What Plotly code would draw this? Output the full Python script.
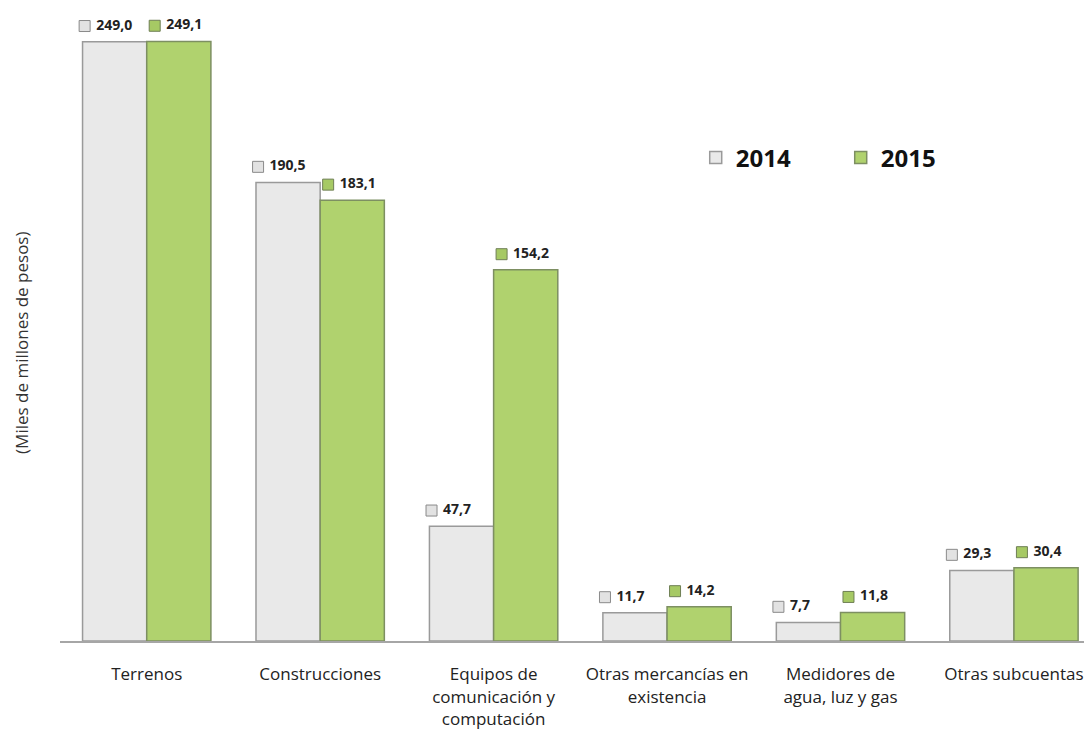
import plotly.graph_objects as go

categorias = ["Terrenos", "Construcciones", "Equipos de<br>comunicación y<br>computación",
              "Otras mercancías en<br>existencia", "Medidores de<br>agua, luz y gas", "Otras subcuentas"]
valores_2014 = [249.0, 190.5, 47.7, 11.7, 7.7, 29.3]
valores_2015 = [249.1, 183.1, 154.2, 14.2, 11.8, 30.4]

pos = list(range(len(categorias)))
ancho = 0.37
fuente = "Open Sans, sans-serif"


def etiqueta(v):
    return " " + f"{v:.1f}".replace(".", ",")


fig = go.Figure()

fig.add_trace(go.Bar(x=pos, y=valores_2014, name="2014", width=ancho, offset=-ancho,
                     marker=dict(color="#e9e9e9", line=dict(color="#9a9a9a", width=1.5))))
fig.add_trace(go.Bar(x=pos, y=valores_2015, name="2015", width=ancho, offset=0,
                     marker=dict(color="#b0d26e", line=dict(color="#7d8f62", width=1.5))))

# etiquetas de valor con su cuadrito
fig.add_trace(go.Scatter(x=[p - ancho + 0.012 for p in pos], y=[v + 6.5 for v in valores_2014],
                         mode="markers+text", text=[etiqueta(v) for v in valores_2014],
                         textposition="middle right", showlegend=False, hoverinfo="skip",
                         cliponaxis=False,
                         textfont=dict(family=fuente, size=14, color="#222", weight="bold"),
                         marker=dict(symbol="square", size=11, color="#e2e2e2",
                                     line=dict(color="#8a8a8a", width=1))))
fig.add_trace(go.Scatter(x=[p + 0.046 for p in pos], y=[v + 6.5 for v in valores_2015],
                         mode="markers+text", text=[etiqueta(v) for v in valores_2015],
                         textposition="middle right", showlegend=False, hoverinfo="skip",
                         cliponaxis=False,
                         textfont=dict(family=fuente, size=14, color="#222", weight="bold"),
                         marker=dict(symbol="square", size=11, color="#a6c964",
                                     line=dict(color="#6f7f55", width=1))))

fig.add_annotation(text="(Miles de millones de pesos)", textangle=-90,
                   xref="paper", yref="paper", x=0, y=0.48, xshift=-38, xanchor="center",
                   showarrow=False, font=dict(family=fuente, size=17, color="#333"))

fig.update_layout(
    width=1092, height=732,
    margin=dict(l=52, r=8, t=12, b=99),
    plot_bgcolor="white", paper_bgcolor="white",
    barmode="group",
    font=dict(family=fuente, color="#222"),
    legend=dict(orientation="h", x=0.616, y=0.778, yanchor="middle", entrywidth=100,
                font=dict(size=24, color="#111", weight="bold"), bgcolor="rgba(0,0,0,0)"),
    xaxis=dict(range=[-0.5, 5.45], tickvals=pos, ticktext=categorias,
               showline=True, linecolor="#a6a6a6", linewidth=2, showgrid=False,
               zeroline=False, tickfont=dict(size=17, color="#222"),
               ticks="", ticklabelstandoff=17, automargin=False),
    yaxis=dict(range=[0, 258], visible=False),
)

fig.write_html("out.html")
